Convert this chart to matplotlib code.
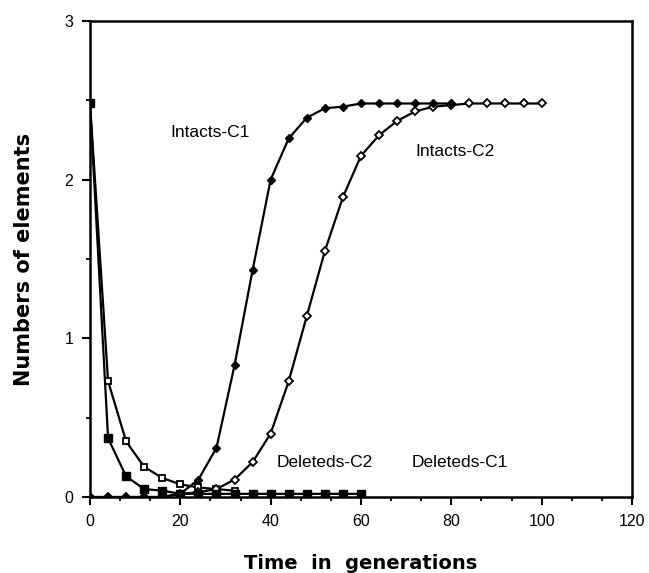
import numpy as np
import matplotlib
matplotlib.use('Agg')
import matplotlib.pyplot as plt
from matplotlib.ticker import MultipleLocator

# dados (tempo em gerações, passo de 4)
t_intactos_c1 = [0, 4, 8, 12, 16, 20, 24, 28, 32, 36, 40, 44, 48, 52, 56, 60, 64, 68, 72, 76, 80]
intactos_c1 = [0, 0, 0, 0, 0, 0.02, 0.11, 0.31, 0.83, 1.43, 2.00, 2.26, 2.39, 2.45, 2.46,
               2.48, 2.48, 2.48, 2.48, 2.48, 2.48]

t_intactos_c2 = [0, 4, 8, 12, 16, 20, 24, 28, 32, 36, 40, 44, 48, 52, 56, 60, 64, 68, 72,
                 76, 80, 84, 88, 92, 96, 100]
intactos_c2 = [0, 0, 0, 0, 0, 0.02, 0.03, 0.05, 0.11, 0.22, 0.40, 0.73, 1.14, 1.55, 1.89,
               2.15, 2.28, 2.37, 2.43, 2.46, 2.47, 2.48, 2.48, 2.48, 2.48, 2.48]

t_deletados_c1 = [0, 4, 8, 12, 16, 20, 24, 28, 32, 36, 40, 44, 48, 52, 56, 60]
deletados_c1 = [2.48, 0.37, 0.13, 0.05, 0.04, 0.02, 0.02, 0.02, 0.02, 0.02, 0.02, 0.02,
                0.02, 0.02, 0.02, 0.02]

t_deletados_c2 = [0, 4, 8, 12, 16, 20, 24, 28, 32]
deletados_c2 = [2.48, 0.73, 0.35, 0.19, 0.12, 0.08, 0.06, 0.05, 0.04]

fig = plt.figure(figsize=(6.49, 5.73), dpi=100)
ax = fig.add_axes([0.1387, 0.1326, 0.835, 0.8308])

# Curvas
ax.plot(t_deletados_c2, deletados_c2, '-s', color='black', lw=1.6, ms=5,
        mfc='white', mec='black', mew=1.3, zorder=3)
ax.plot(t_deletados_c1, deletados_c1, '-s', color='black', lw=1.6, ms=5.5,
        mfc='black', mec='black', zorder=4)
ax.plot(t_intactos_c2, intactos_c2, '-D', color='black', lw=1.6, ms=4.3,
        mfc='white', mec='black', mew=1.3, zorder=3)
ax.plot(t_intactos_c1, intactos_c1, '-D', color='black', lw=1.6, ms=4.3,
        mfc='black', mec='black', zorder=4)

# Rotulos das curvas
fonte = 'Liberation Sans'
ax.text(17.7, 2.30, 'Intacts-C1', fontsize=12.5, family=fonte, va='center')
ax.text(72.1, 2.18, 'Intacts-C2', fontsize=12.5, family=fonte, va='center')
ax.text(41.3, 0.22, 'Deleteds-C2', fontsize=12.5, family=fonte, va='center')
ax.text(71.2, 0.22, 'Deleteds-C1', fontsize=12.5, family=fonte, va='center')

# Eixos
ax.set_xlim(0, 120)
ax.set_ylim(0, 3)
ax.xaxis.set_major_locator(MultipleLocator(20))
ax.xaxis.set_minor_locator(MultipleLocator(20 / 3))
ax.yaxis.set_major_locator(MultipleLocator(1))
ax.yaxis.set_minor_locator(MultipleLocator(0.5))
ax.tick_params(which='major', direction='out', length=6, width=1.5, labelsize=11.5, pad=6)
ax.tick_params(which='minor', direction='out', length=3, width=1.3)
for lbl in ax.get_xticklabels() + ax.get_yticklabels():
    lbl.set_family(fonte)
for s in ax.spines.values():
    s.set_linewidth(1.8)
    s.set_zorder(5)

ax.set_xlabel('Time  in  generations', fontsize=14, fontweight='bold', labelpad=18)
ax.set_ylabel('Numbers of elements', fontsize=15, fontweight='bold', labelpad=22)

plt.savefig('out.png', dpi=100)
